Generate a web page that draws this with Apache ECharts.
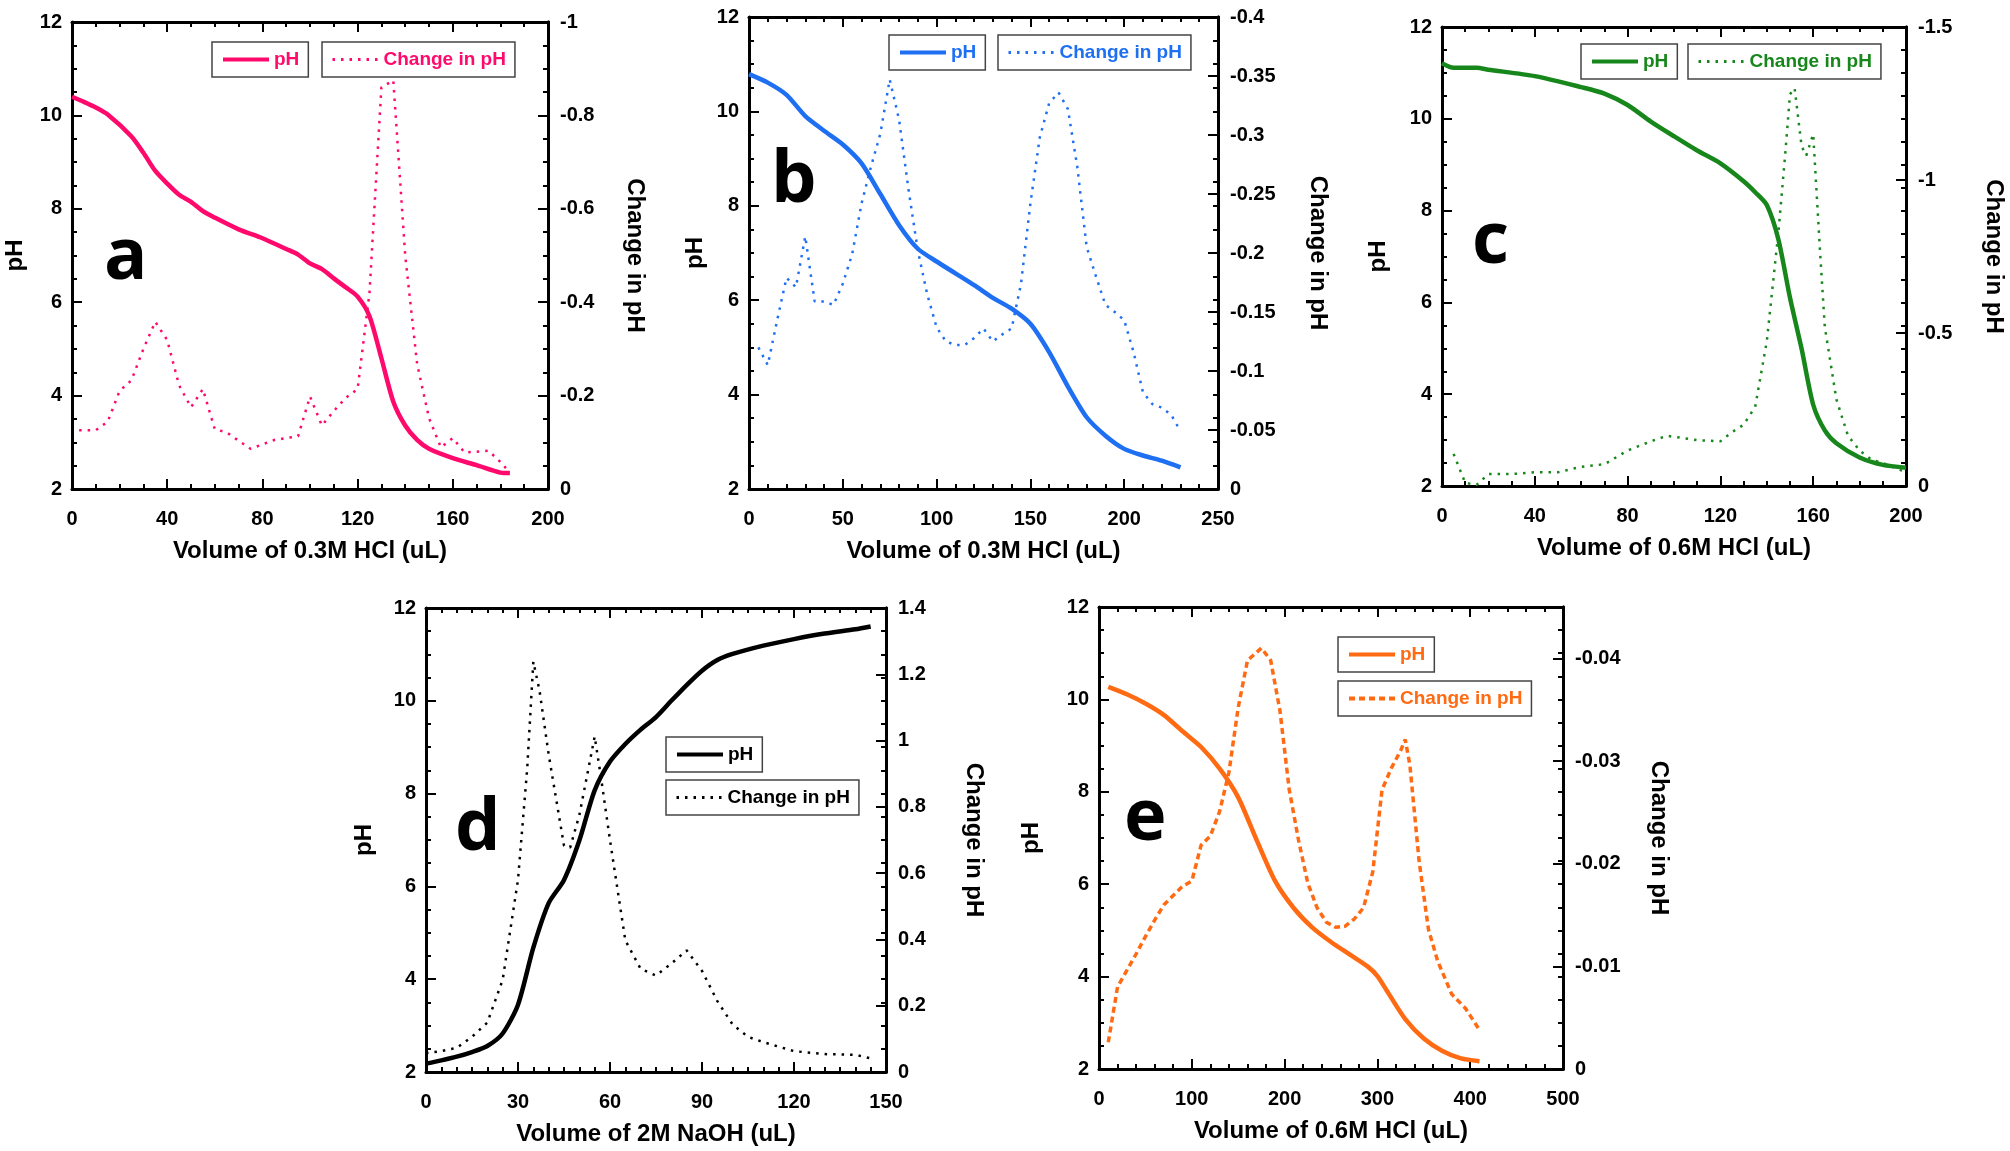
<!DOCTYPE html>
<html><head><meta charset="utf-8">
<script src="https://cdn.jsdelivr.net/npm/echarts@6/dist/echarts.min.js"></script>
<style>html,body{margin:0;padding:0;background:#fff}#c{width:2010px;height:1151px}</style>
</head><body><div id="c"></div>
<script>
// ---------- DATA ----------
// Panel a: 0.3M HCl
const aPhVol = [0,5,10,15,25,30,35,40,45,50,55,60,70,80,90,95,100,105,110,115,120,125,130,135,140,145,150,160,170,180,184];
const aPh    = [10.40,10.29,10.17,10.02,9.55,9.20,8.81,8.54,8.30,8.15,7.95,7.81,7.56,7.37,7.14,7.02,6.83,6.71,6.51,6.32,6.12,5.70,4.80,3.87,3.36,3.05,2.86,2.66,2.51,2.35,2.34];
const aChVol = [3,10,15,20,25,30,35,40,45,50,55,60,65,75,85,95,100,105,110,115,120,125,130,135,140,145,150,155,160,165,175,180,184];
const aCh    = [-0.126,-0.126,-0.144,-0.21,-0.233,-0.30,-0.358,-0.319,-0.222,-0.175,-0.214,-0.128,-0.121,-0.086,-0.105,-0.113,-0.198,-0.136,-0.167,-0.195,-0.214,-0.42,-0.86,-0.875,-0.50,-0.268,-0.152,-0.089,-0.109,-0.078,-0.082,-0.058,-0.035];
// Panel b: 0.3M HCl
const bPhVol = [0,10,20,30,40,50,60,70,80,90,100,110,120,130,140,150,160,170,180,190,200,210,220,230];
const bPh    = [10.79,10.61,10.35,9.90,9.59,9.30,8.90,8.25,7.59,7.09,6.82,6.57,6.32,6.05,5.82,5.50,4.90,4.17,3.52,3.13,2.85,2.71,2.60,2.46];
const bChVol = [5,10,15,20,25,30,35,40,45,50,55,60,65,70,75,80,85,90,95,100,105,110,115,120,125,130,135,140,145,150,155,160,165,170,175,180,185,190,195,200,205,210,215,220,225,230];
const bCh    = [-0.120,-0.105,-0.143,-0.179,-0.171,-0.214,-0.159,-0.159,-0.156,-0.174,-0.199,-0.242,-0.273,-0.301,-0.347,-0.313,-0.254,-0.202,-0.165,-0.137,-0.125,-0.122,-0.122,-0.128,-0.136,-0.125,-0.131,-0.136,-0.174,-0.242,-0.298,-0.327,-0.336,-0.322,-0.273,-0.205,-0.180,-0.156,-0.150,-0.143,-0.116,-0.082,-0.072,-0.069,-0.063,-0.049];
// Panel c: 0.6M HCl
const cPhVol = [0,5,15,20,40,60,70,80,90,100,110,120,130,135,140,145,150,155,160,165,170,180,190,200];
const cPh    = [11.21,11.11,11.11,11.07,10.93,10.69,10.55,10.30,9.94,9.62,9.31,9.03,8.64,8.40,8.12,7.37,6.10,4.99,3.77,3.21,2.93,2.62,2.46,2.40];
const cChVol = [5,10,15,20,30,40,50,60,70,80,90,97,110,120,125,130,135,140,145,148,150,152,155,157,160,163,165,170,175,180,185,190,200];
const cCh    = [-0.105,-0.01,-0.004,-0.039,-0.039,-0.045,-0.045,-0.063,-0.071,-0.116,-0.146,-0.164,-0.150,-0.146,-0.176,-0.20,-0.259,-0.473,-0.829,-1.09,-1.28,-1.30,-1.11,-1.08,-1.15,-0.76,-0.52,-0.283,-0.164,-0.116,-0.087,-0.075,-0.045];
// Panel d: 2M NaOH
const dPhVol = [0,5,10,15,20,25,30,35,40,45,50,55,60,65,70,75,80,85,90,95,100,110,120,130,140,145];
const dPh    = [2.18,2.25,2.33,2.43,2.56,2.83,3.45,4.68,5.64,6.14,6.99,8.07,8.69,9.07,9.38,9.65,10.00,10.34,10.65,10.88,11.01,11.19,11.33,11.45,11.54,11.60];
const dChVol = [0,5,10,15,20,25,30,33,35,37,40,45,47,50,55,57,60,65,70,75,80,85,90,95,100,105,110,120,130,140,145];
const dCh    = [0.057,0.063,0.073,0.106,0.149,0.278,0.58,0.915,1.238,1.152,0.958,0.683,0.677,0.775,1.012,0.893,0.699,0.397,0.311,0.291,0.327,0.367,0.305,0.214,0.143,0.106,0.09,0.063,0.054,0.052,0.041];
// Panel e: 0.6M HCl
const ePhVol = [10,30,50,70,90,110,130,150,170,190,210,230,250,270,290,300,310,330,350,370,390,410];
const ePh    = [10.27,10.11,9.91,9.66,9.31,8.97,8.50,7.88,6.95,6.06,5.48,5.06,4.75,4.48,4.21,4.01,3.70,3.08,2.66,2.39,2.23,2.17];
const eChVol = [10,20,30,40,50,60,70,80,90,100,110,120,130,140,150,160,175,185,195,205,215,225,235,245,255,265,275,285,295,305,315,325,330,335,345,355,365,380,395,410];
const eCh    = [-0.0026,-0.0080,-0.0096,-0.0112,-0.0129,-0.0145,-0.0160,-0.0169,-0.0178,-0.0183,-0.0218,-0.0227,-0.0251,-0.0289,-0.0352,-0.0398,-0.0410,-0.0398,-0.0349,-0.0272,-0.0223,-0.0181,-0.0157,-0.0143,-0.0138,-0.0139,-0.0146,-0.0157,-0.0192,-0.0272,-0.0293,-0.0310,-0.0321,-0.0296,-0.0202,-0.0136,-0.0105,-0.0073,-0.0059,-0.0038];
// Tick labels
const aXTicks = [0,40,80,120,160,200], aY2Ticks = [0,-0.2,-0.4,-0.6,-0.8,-1];
const bXTicks = [0,50,100,150,200,250], bY2Ticks = [0,-0.05,-0.1,-0.15,-0.2,-0.25,-0.3,-0.35,-0.4];
const cXTicks = [0,40,80,120,160,200], cY2Ticks = [0,-0.5,-1,-1.5];
const dXTicks = [0,30,60,90,120,150], dY2Ticks = [0,0.2,0.4,0.6,0.8,1,1.2,1.4];
const eXTicks = [0,100,200,300,400,500], eY2Ticks = [0,-0.01,-0.02,-0.03,-0.04];
const phTicks = [2,4,6,8,10,12];
const xTitles = ['Volume of 0.3M HCl (uL)','Volume of 0.3M HCl (uL)','Volume of 0.6M HCl (uL)','Volume of 2M NaOH (uL)','Volume of 0.6M HCl (uL)'];

// ---------- LAYOUT / STYLE ----------
const FONT = '"Liberation Sans", Arial, sans-serif';
const zip = (xs, ys) => xs.map((x, i) => [x, ys[i]]);
const panels = [
  {key:'a', color:'#FF0A6C', grid:{left:72,top:22,width:476,height:467}, xT:aXTicks, minor:4, y2T:aY2Ticks, y2:{min:-1,max:0,interval:0.2,inverse:true},
   phX:aPhVol, ph:aPh, chX:aChVol, ch:aCh, legPh:[212,42], legCh:[322,42], letter:[104,222], gL:45, gR:75, dash:[2.5,6], dw:2.5},
  {key:'b', color:'#1F6FF2', grid:{left:749,top:17,width:469,height:472}, xT:bXTicks, minor:5, y2T:bY2Ticks, y2:{min:-0.4,max:0,interval:0.05,inverse:true},
   phX:bPhVol, ph:bPh, chX:bChVol, ch:bCh, legPh:[889,35], legCh:[998,35], letter:[771,145], gL:42, gR:88, dash:[2.5,6], dw:2.5},
  {key:'c', color:'#17871C', grid:{left:1442,top:27,width:464,height:459}, xT:cXTicks, minor:4, y2T:cY2Ticks, y2:{min:-1.5,max:0,interval:0.5,inverse:true},
   phX:cPhVol, ph:cPh, chX:cChVol, ch:cCh, legPh:[1581,44], legCh:[1688,44], letter:[1472,206], gL:52, gR:76, dash:[2.5,6], dw:2.5},
  {key:'d', color:'#000000', grid:{left:426,top:608,width:460,height:464}, xT:dXTicks, minor:6, y2T:dY2Ticks, y2:{min:0,max:1.4,interval:0.2,inverse:false},
   phX:dPhVol, ph:dPh, chX:dChVol, ch:dCh, legPh:[666,737], legCh:[666,780], letter:[455,793], gL:50, gR:76, dash:[2.5,6], dw:2.5},
  {key:'e', color:'#FF6A12', grid:{left:1099,top:607,width:464,height:462}, xT:eXTicks, minor:5, y2T:eY2Ticks, y2:{min:-0.045,max:0,interval:0.005,inverse:true},
   phX:ePhVol, ph:ePh, chX:eChVol, ch:eCh, legPh:[1338,637], legCh:[1338,681], letter:[1124,783], gL:56, gR:84, dash:[6,4], dw:3.5}
];

const lab = {fontSize:20, fontWeight:'bold', color:'#000', fontFamily:FONT};
const nameStyle = {fontSize:24, fontWeight:'bold', color:'#000', fontFamily:FONT};
const line = {show:true, onZero:false, lineStyle:{color:'#000', width:3}};
const tick = (len) => ({show:true, inside:true, length:len, lineStyle:{color:'#000', width:2}});
const minor = (n) => ({show:true, splitNumber:n, length:5, lineStyle:{color:'#000', width:2}});
const near = (v, arr) => arr.some(t => Math.abs(t - v) < 1e-9);

const grid = [], xAxis = [], yAxis = [], series = [], legend = [], graphic = [];
panels.forEach((p, i) => {
  grid.push(Object.assign({}, p.grid));
  const xmin = p.xT[0], xmax = p.xT[p.xT.length-1], xint = p.xT[1]-p.xT[0];
  xAxis.push({type:'value', gridIndex:i, position:'bottom', min:xmin, max:xmax, interval:xint,
    axisLine:line, axisTick:tick(10), minorTick:minor(p.minor), splitLine:{show:false}, minorSplitLine:{show:false},
    axisLabel:Object.assign({margin:20}, lab), name:xTitles[i], nameLocation:'middle', nameGap:50, nameTextStyle:nameStyle});
  xAxis.push({type:'value', gridIndex:i, position:'top', min:xmin, max:xmax, interval:xint,
    axisLine:line, axisTick:tick(10), minorTick:minor(p.minor), splitLine:{show:false}, axisLabel:{show:false}});
  yAxis.push({type:'value', gridIndex:i, position:'left', min:2, max:12, interval:2,
    axisLine:line, axisTick:tick(10), minorTick:minor(4), splitLine:{show:false}, minorSplitLine:{show:false},
    axisLabel:Object.assign({margin:10}, lab), name:'pH', nameLocation:'middle', nameGap:p.gL, nameRotate:90, nameTextStyle:nameStyle});
  yAxis.push({type:'value', gridIndex:i, position:'right', min:p.y2.min, max:p.y2.max, interval:p.y2.interval, inverse:p.y2.inverse,
    axisLine:line, axisTick:Object.assign(tick(10), {customValues:p.y2T}), minorTick:{show:false}, splitLine:{show:false},
    axisLabel:Object.assign({margin:12, customValues:p.y2T, formatter:(v) => near(v, p.y2T) ? String(+v.toFixed(4)) : ''}, lab),
    name:'Change in pH', nameLocation:'middle', nameGap:p.gR, nameRotate:-90, nameTextStyle:nameStyle});
  yAxis.push({type:'value', gridIndex:i, position:'right', min:2, max:12, interval:2,
    axisLine:line, axisTick:tick(5), minorTick:minor(4), splitLine:{show:false}, axisLabel:{show:false}});
  const phName = p.key + '_ph', chName = p.key + '_ch';
  series.push({name:phName, type:'line', xAxisIndex:2*i, yAxisIndex:3*i, data:zip(p.phX, p.ph), symbol:'none', smooth:0.25,
    lineStyle:{color:p.color, width:4.5}, itemStyle:{color:p.color}, z:3});
  series.push({name:chName, type:'line', xAxisIndex:2*i, yAxisIndex:3*i+1, data:zip(p.chX, p.ch), symbol:'none', smooth:false,
    lineStyle:{color:p.color, width:p.dw, type:p.dash}, itemStyle:{color:p.color}, z:2});
  const legBase = {orient:'horizontal', padding:[8,9], itemWidth:46, itemHeight:14, borderColor:'#444', borderWidth:1.5, borderRadius:0,
    backgroundColor:'#fff', selectedMode:false, itemStyle:{opacity:0},
    textStyle:{color:p.color, fontSize:19, fontWeight:'bold', fontFamily:FONT}};
  legend.push(Object.assign({}, legBase, {data:[phName], left:p.legPh[0], top:p.legPh[1], formatter:() => 'pH',
    lineStyle:{width:4, color:p.color}}));
  legend.push(Object.assign({}, legBase, {data:[chName], left:p.legCh[0], top:p.legCh[1], formatter:() => 'Change in pH',
    lineStyle:{width:p.dw + 0.5, color:p.color, type:p.dash}}));
  graphic.push({type:'text', left:p.letter[0], top:p.letter[1], z:10,
    style:{text:p.key, font:'bold 72px "Open Sans", "Noto Sans", sans-serif', fill:'#000'}});
});

const chart = echarts.init(document.getElementById('c'), null, {renderer:'canvas'});
chart.setOption({backgroundColor:'#fff', animation:false, grid, xAxis, yAxis, series, legend, graphic});
</script></body></html>
